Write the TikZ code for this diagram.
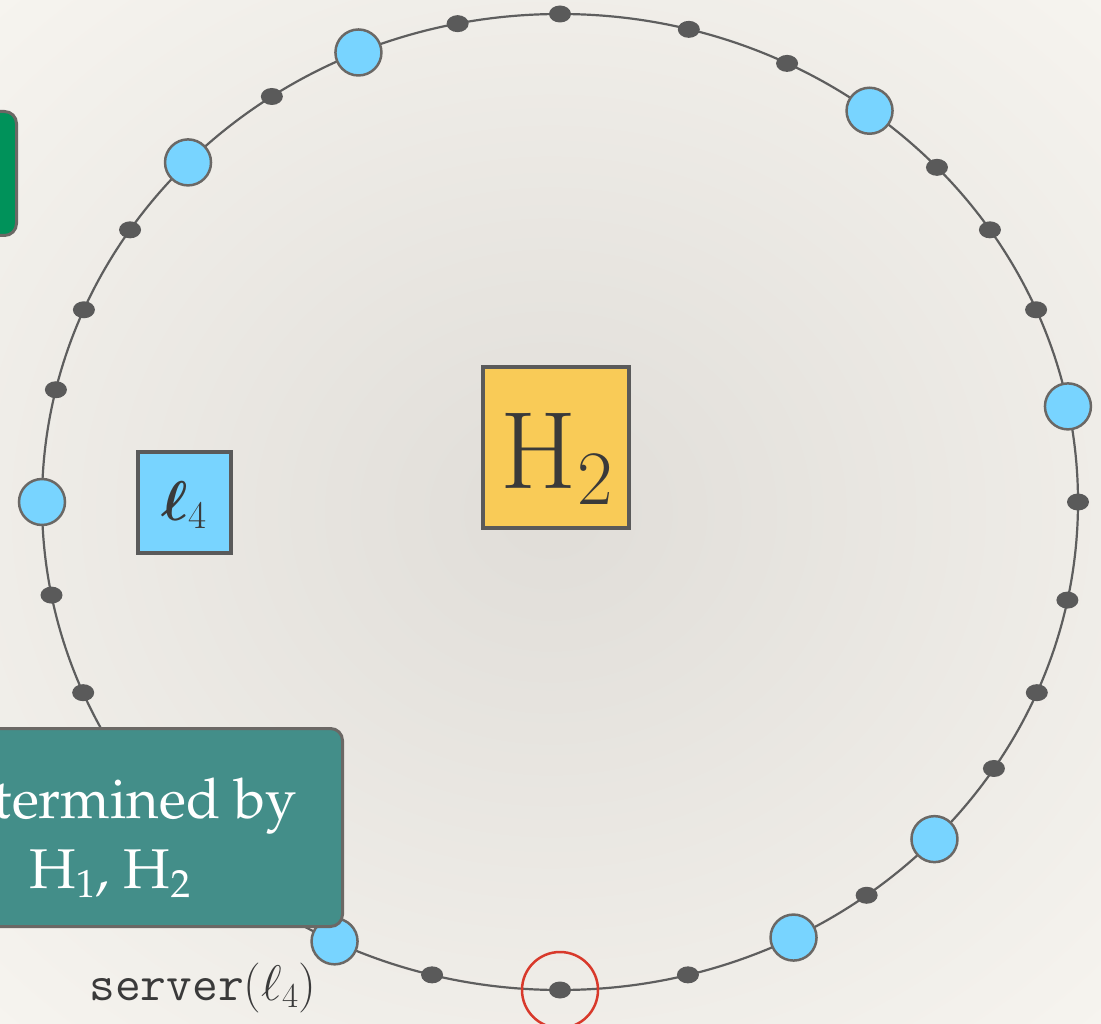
\RequirePackage{fix-cm}
\documentclass[tikz,border=0pt]{standalone}
\usepackage[T1,TU]{fontenc}
\usepackage{amsmath,bm}
\usetikzlibrary{shapes.geometric}
\definecolor{bgin}{HTML}{E0DDD8}
\definecolor{bgout}{HTML}{F6F4EF}
\definecolor{ringc}{HTML}{5E5E5E}
\definecolor{dotc}{HTML}{5A5A5A}
\definecolor{nodeblue}{HTML}{78D4FF}
\definecolor{edgegray}{HTML}{6B6865}
\definecolor{boxgray}{HTML}{5A5A5A}
\definecolor{hyellow}{HTML}{F9CB57}
\definecolor{tealc}{HTML}{438E89}
\definecolor{greenc}{HTML}{00925A}
\definecolor{redc}{HTML}{D8392B}
\definecolor{textc}{HTML}{3A3A3A}
\tikzset{
  ringline/.style={draw=ringc, line width=2.2pt},
  smalldot/.style={ellipse, fill=dotc, minimum width=22pt, minimum height=17pt, inner sep=0pt},
  bignode/.style={circle, fill=nodeblue, draw=edgegray, line width=2.5pt, minimum size=46pt, inner sep=0pt},
  sqbox/.style={draw=boxgray, line width=4pt, inner sep=0pt, text=textc},
  roundbox/.style={draw=edgegray, line width=3pt, rounded corners=12pt, inner sep=0pt},
  hilite/.style={circle, draw=redc, line width=2.5pt, minimum size=76pt, inner sep=0pt}
}
\begin{document}
\begin{tikzpicture}[x=1pt,y=-1pt]
\useasboundingbox (0,0) rectangle (1101,1024);
\clip (0,0) rectangle (1101,1024);
\shade[inner color=bgin, outer color=bgout] (-250,-200) rectangle (1351,1224);
\coordinate (c) at (560,502);
\draw[ringline] (c) ellipse [x radius=518pt, y radius=488pt];
\foreach \a [count=\i] in {90,101.4,75.6,64.0,123.8,43.3,146.1,33.9,156.8,23.2,166.7,0,191,348.4,203,337,326.9,306.3,255.7,284.3}
  \node[smalldot] (d\i) at ([shift={(\a:518pt and 488pt)}]c) {};
\node[smalldot] (dbot) at ([shift={(270:518pt and 488pt)}]c) {};
\foreach \a [count=\i] in {112.9,53.3,135.9,11.3,180,316.3,296.8,244.2}
  \node[bignode] (b\i) at ([shift={(\a:518pt and 488pt)}]c) {};
\node[hilite] (hl) at (dbot) {};
\node[sqbox, fill=nodeblue, minimum width=93pt, minimum height=101pt] (l4) at (184.5,502.5) {};
\node[text=textc, inner sep=0pt, anchor=base, font=\fontsize{56}{56}\selectfont] (l4t) at (184,520)
  {$\bm{\ell}_4$};
\node[sqbox, fill=hyellow, minimum width=146pt, minimum height=161pt] (h2) at (556,447.5) {};
\node[text=textc, inner sep=0pt, anchor=base, font=\fontsize{110}{110}\selectfont] (h2t) at (557,488)
  {H$_2$};
\node[roundbox, fill=greenc, minimum width=233pt, minimum height=124pt] (gbox) at (-100,173.5) {};
\node[roundbox, fill=tealc, minimum width=465pt, minimum height=198pt] (tbox) at (110,827.5) {};
\node[text=white, align=center, inner sep=0pt, font=\fontencoding{T1}\fontfamily{ppl}\fontsize{56}{70}\selectfont] (tboxt) at (110,838)
  {Determined by\\ H\textsubscript{1}, H\textsubscript{2}};
\node[text=textc, inner sep=0pt, anchor=base, font=\fontsize{50}{50}\selectfont] (srv) at (203,1000)
  {\texttt{server}$(\ell_4)$};
\end{tikzpicture}
\end{document}
